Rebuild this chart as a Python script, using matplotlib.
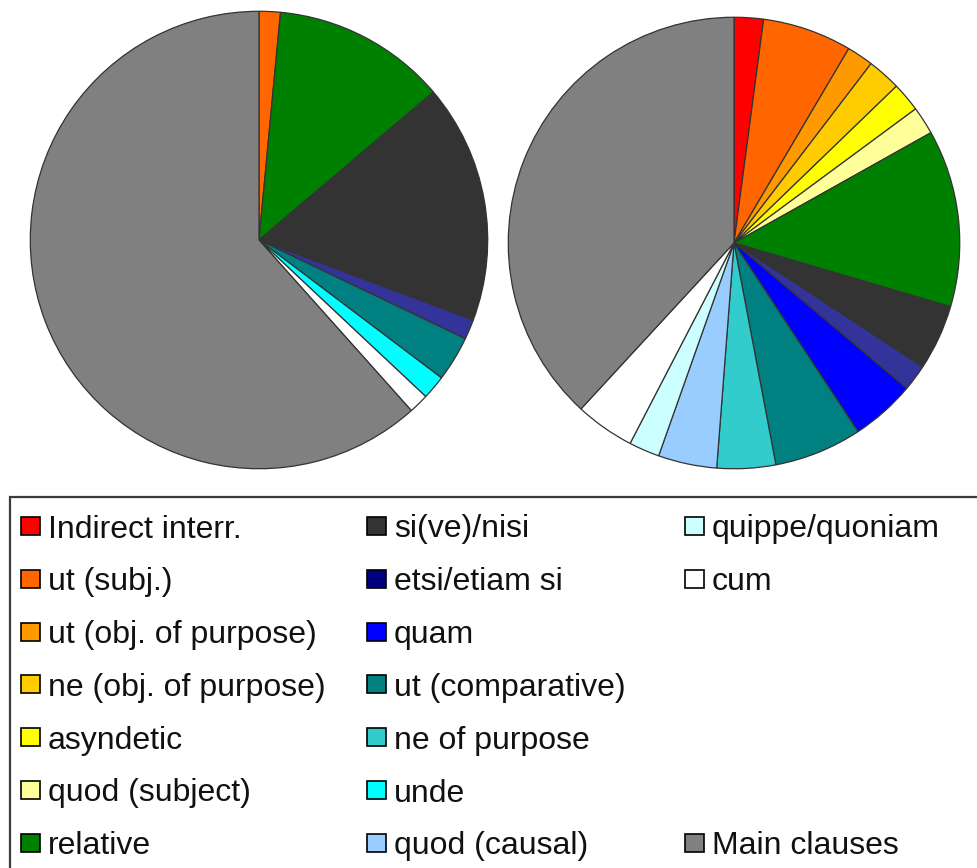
import matplotlib.pyplot as plt
from matplotlib.patches import Rectangle

plt.rcParams['font.family'] = ['Liberation Sans', 'DejaVu Sans']

# clause types (legend order = wedge order, clockwise from 12 o'clock)
categories = ['Indirect interr.', 'ut (subj.)', 'ut (obj. of purpose)',
              'ne (obj. of purpose)', 'asyndetic', 'quod (subject)', 'relative',
              'si(ve)/nisi', 'etsi/etiam si', 'quam', 'ut (comparative)',
              'ne of purpose', 'unde', 'quod (causal)', 'quippe/quoniam', 'cum',
              'Main clauses']
colors = ['#FF0000', '#FF6600', '#FF9900', '#FFCC00', '#FFFF00', '#FFFF99',
          '#008000', '#333333', '#333399', '#0000FF', '#008080', '#33CCCC',
          '#00FFFF', '#99CCFF', '#CCFFFF', '#FFFFFF', '#808080']
# the legend swatch for etsi/etiam si is drawn darker than its wedge
legend_color_fix = {'etsi/etiam si': '#000080'}

# shares in percent
left_vals = [0, 1.5, 0, 0, 0, 0, 12.3, 16.9, 1.4, 0, 3.2, 0, 1.7, 0, 0, 1.4, 61.6]
right_vals = [2.1, 6.4, 1.9, 2.4, 2.1, 2.0, 12.7, 4.7, 1.9, 4.6, 6.3, 4.2, 0,
              4.2, 2.2, 4.25, 38.2]

# legend columns (blank slots in the third one)
legend_cols = [categories[0:7], categories[7:14],
               ['quippe/quoniam', 'cum', '', '', '', '', 'Main clauses']]

W, H = 978, 868
fig = plt.figure(figsize=(W / 100, H / 100), dpi=100)
fig.patch.set_facecolor('white')


def draw_pie(cx, cy, r, vals):
    ax = fig.add_axes([(cx - r) / W, (H - cy - r) / H, 2 * r / W, 2 * r / H])
    v = [x for x in vals if x > 0]
    c = [col for x, col in zip(vals, colors) if x > 0]
    ax.pie(v, colors=c, startangle=90, counterclock=False,
           wedgeprops=dict(edgecolor='#333333', linewidth=0.9))
    ax.set_xlim(-1.01, 1.01)
    ax.set_ylim(-1.01, 1.01)
    ax.set_aspect('equal')
    ax.axis('off')


draw_pie(259, 240, 231, left_vals)
draw_pie(734, 243, 228, right_vals)

# legend frame, runs off the right and bottom edge
fig.patches.append(Rectangle((10 / W, -0.05), 1.2, (H - 497) / H + 0.05,
                             transform=fig.transFigure, fill=False,
                             edgecolor='#3c3c3c', linewidth=1.6))

col_x = [21, 367, 685]
row_y0, row_dy = 526, 52.8
for ci, col in enumerate(legend_cols):
    for ri, lab in enumerate(col):
        if not lab:
            continue
        y = row_y0 + ri * row_dy
        color = legend_color_fix.get(lab, colors[categories.index(lab)])
        fig.patches.append(Rectangle((col_x[ci] / W, (H - y - 9) / H), 19 / W, 18 / H,
                                     transform=fig.transFigure, facecolor=color,
                                     edgecolor='black', linewidth=1.2))
        fig.text((col_x[ci] + 27) / W, (H - y) / H, lab, fontsize=23,
                 va='center_baseline', ha='left', color='#111111')

plt.savefig('out.png', dpi=100)
